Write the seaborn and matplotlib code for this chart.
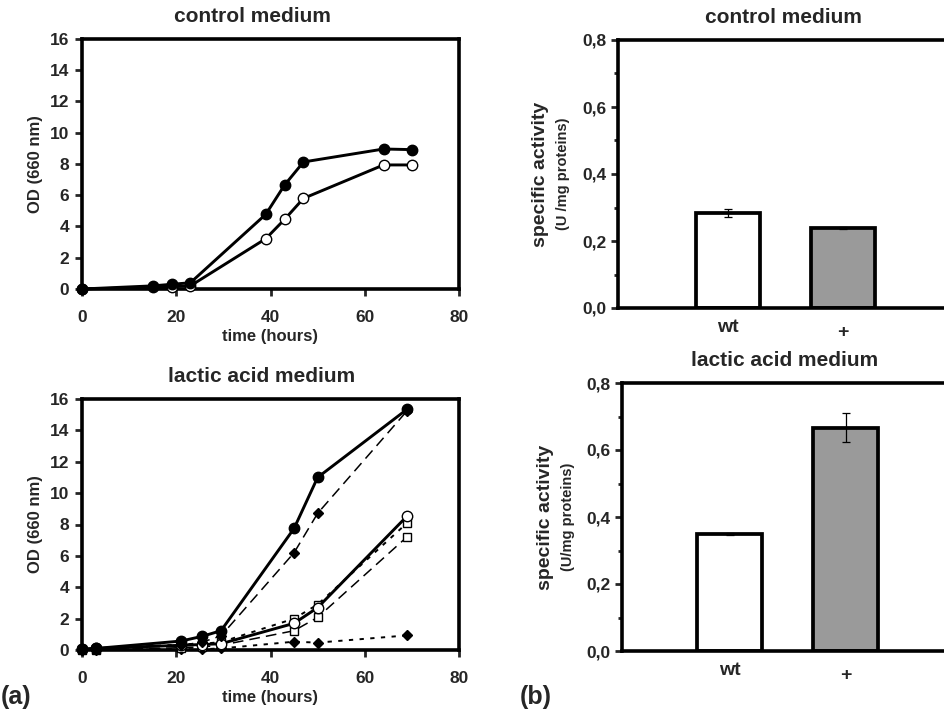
import numpy as np
import pandas as pd
import matplotlib
matplotlib.use("Agg")
import matplotlib.pyplot as plt
import seaborn as sns
from matplotlib.ticker import MultipleLocator, FuncFormatter
from matplotlib.transforms import ScaledTranslation

# ---------------- data ----------------
ctrl_t = [0, 15, 19, 23, 39, 43, 47, 64, 70]
ctrl_filled = [0.0, 0.2, 0.3, 0.4, 4.78, 6.66, 8.13, 8.96, 8.92]
ctrl_open = [0.0, 0.1, 0.15, 0.2, 3.22, 4.46, 5.8, 7.94, 7.94]

lac_t = [0, 3, 21, 25.5, 29.5, 45, 50, 69]
lac_filled_circle = [0.05, 0.1, 0.57, 0.87, 1.23, 7.75, 11.0, 15.35]
lac_filled_diamond_dash = [0.0, 0.05, 0.3, 0.5, 0.9, 6.2, 8.71, 15.25]
lac_open_circle = [0.05, 0.1, 0.3, 0.35, 0.4, 1.7, 2.7, 8.54]
lac_open_square_dot = [0.05, 0.05, 0.35, 0.4, 0.5, 2.0, 2.9, 8.1]
lac_open_square_dash = [0.0, 0.0, 0.15, 0.2, 0.3, 1.23, 2.08, 7.22]
lac_filled_diamond_dot = [0.0, 0.0, 0.05, 0.05, 0.1, 0.53, 0.47, 0.93]

strains = ["wt", "+"]
ctrl_activity = [0.283, 0.238]
ctrl_err = [0.012, 0.003]
lac_activity = [0.350, 0.667]
lac_err = [0.003, 0.042]

# ---------------- style ----------------
sns.set_style("ticks")
plt.rcParams["font.family"] = ["Liberation Sans", "DejaVu Sans"]
plt.rcParams["font.weight"] = "bold"
plt.rcParams["axes.labelweight"] = "bold"
plt.rcParams["axes.titleweight"] = "bold"

W, H = 944, 718
fig = plt.figure(figsize=(W / 100, H / 100), dpi=100)


def px(l, t, r, b):
    return [l / W, 1 - b / H, (r - l) / W, (b - t) / H]


SPW = 2.6


def frame(ax):
    for s in ax.spines.values():
        s.set_visible(True)
        s.set_linewidth(SPW)
        s.set_color("black")


def growth_axes(ax, title, title_x):
    frame(ax)
    ax.set_xlim(0, 80)
    ax.set_ylim(0, 16)
    ax.xaxis.set_major_locator(MultipleLocator(20))
    ax.yaxis.set_major_locator(MultipleLocator(2))
    ax.tick_params(axis="both", direction="out", length=5, width=2,
                   labelsize=12.5, pad=4)
    ax.tick_params(axis="x", pad=10)
    ax.set_xlabel("time (hours)", fontsize=12, labelpad=3)
    ax.set_ylabel("OD (660 nm)", fontsize=12, labelpad=5)
    ax.set_title(title, fontsize=15, pad=12, x=title_x)
    for lbl in ax.get_xticklabels() + ax.get_yticklabels():
        lbl.set_fontweight("bold")


def line(ax, x, y, marker, filled, ls, lw, ms):
    sns.lineplot(x=x, y=y, ax=ax, color="black", linewidth=lw,
                 linestyle=ls, marker=marker, markersize=ms,
                 markerfacecolor="black" if filled else "white",
                 markeredgecolor="black", markeredgewidth=1.0,
                 clip_on=False, zorder=3)


# ---- (a) top: control medium ----
ax1 = fig.add_axes(px(82, 39, 459, 289))
line(ax1, ctrl_t, ctrl_open, "o", False, "-", 2.1, 7.5)
line(ax1, ctrl_t, ctrl_filled, "o", True, "-", 2.1, 7.5)
growth_axes(ax1, "control medium", 0.451)

# ---- (a) bottom: lactic acid medium ----
LONG = (0, (7, 4))
SHORT = (0, (2.2, 3.3))
ax2 = fig.add_axes(px(82, 399, 459, 650))
line(ax2, lac_t, lac_filled_diamond_dot, "D", True, SHORT, 1.4, 5.5)
line(ax2, lac_t, lac_open_square_dash, "s", False, LONG, 1.1, 6)
line(ax2, lac_t, lac_open_square_dot, "s", False, SHORT, 1.4, 6)
line(ax2, lac_t, lac_open_circle, "o", False, "-", 2.1, 7.5)
line(ax2, lac_t, lac_filled_diamond_dash, "D", True, LONG, 1.1, 5.5)
line(ax2, lac_t, lac_filled_circle, "o", True, "-", 2.1, 7.5)
growth_axes(ax2, "lactic acid medium", 0.475)


# ---- (b) bars ----
def bar_axes(rect, vals, errs, title, unit_label, xlim):
    ax = fig.add_axes(rect)
    df = pd.DataFrame({"strain": strains, "activity": vals})
    sns.barplot(data=df, x="strain", y="activity", hue="strain",
                palette=["white", "#9a9a9a"], width=0.56,
                edgecolor="black", linewidth=2.7, errorbar=None,
                legend=False, ax=ax)
    ax.errorbar(x=[0, 1], y=vals, yerr=errs, fmt="none", ecolor="black",
                elinewidth=0.9, capsize=3, capthick=0.9, zorder=5)
    frame(ax)
    ax.set_xlim(*xlim)
    ax.set_ylim(0, 0.8)
    ax.yaxis.set_major_locator(MultipleLocator(0.2))
    ax.yaxis.set_minor_locator(MultipleLocator(0.1))
    ax.yaxis.set_major_formatter(
        FuncFormatter(lambda v, p: f"{v:.1f}".replace(".", ",")))
    ax.tick_params(axis="y", which="major", direction="out", length=5,
                   width=2, labelsize=12.5)
    ax.tick_params(axis="y", which="minor", direction="out", length=3,
                   width=2)
    ax.tick_params(axis="x", length=0, labelsize=14, pad=8)
    ax.set_xlabel("")
    ax.set_ylabel("")
    ax.set_title(title, fontsize=15, pad=12)
    for lbl in ax.get_xticklabels() + ax.get_yticklabels():
        lbl.set_fontweight("bold")
        if lbl.get_text() == "+":
            lbl.set_fontsize(14)
            lbl.set_transform(lbl.get_transform() +
                              ScaledTranslation(0, -5 / 100, fig.dpi_scale_trans))
    ax.text(-0.235, 0.5, "specific activity", transform=ax.transAxes,
            rotation=90, ha="center", va="center", fontsize=14,
            fontweight="bold")
    ax.text(-0.167, 0.5, unit_label, transform=ax.transAxes,
            rotation=90, ha="center", va="center", fontsize=10.5,
            fontweight="bold")
    return ax


bar_axes(px(618, 40, 948, 308), ctrl_activity, ctrl_err, "control medium",
         "(U /mg proteins)", (-0.957, 1.913))
bar_axes(px(622, 383, 948, 651), lac_activity, lac_err, "lactic acid medium",
         "(U/mg proteins)", (-0.93, 1.88))

fig.text(1 / W, 1 - 697 / H, "(a)", fontsize=18, fontweight="bold",
         ha="left", va="center")
fig.text(520 / W, 1 - 697 / H, "(b)", fontsize=18, fontweight="bold",
         ha="left", va="center")

fig.savefig("out.png", dpi=100, facecolor="white")
